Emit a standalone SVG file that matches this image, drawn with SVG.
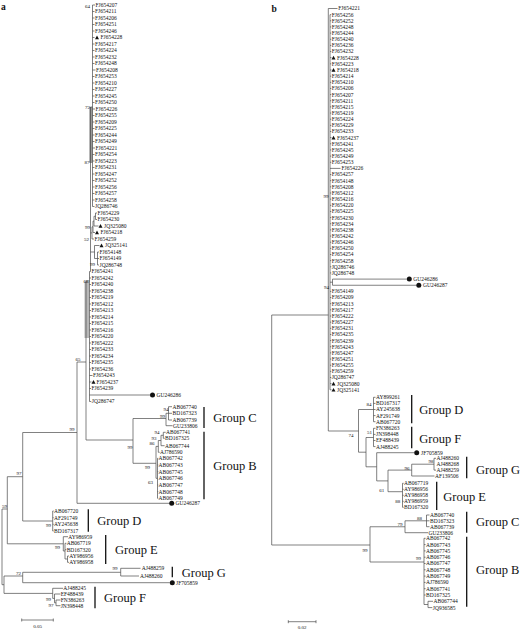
<svg xmlns="http://www.w3.org/2000/svg" xmlns:xlink="http://www.w3.org/1999/xlink" width="520" height="629" viewBox="0 0 520 629">
<style>
.t{font-family:"Liberation Serif","Times New Roman",serif;font-size:5.5px;fill:#111}
.bs{font-family:"Liberation Serif","Times New Roman",serif;font-size:5px;fill:#111;text-anchor:middle}
.g{font-family:"Liberation Serif","Times New Roman",serif;font-size:12.5px;fill:#111}
.p{font-family:"Liberation Serif","Times New Roman",serif;font-size:9.5px;font-weight:bold;fill:#111}
.ln{fill:none;stroke:#4a4a4a;stroke-width:0.7}
.bar{fill:none;stroke:#111;stroke-width:1.3}
.tri{fill:#111}
.dot{fill:#111}
</style>
<defs>
<path id="tri" d="M-2 1.8L0 -1.9L2 1.8Z"/>
</defs>
<rect width="520" height="629" fill="#fff"/>
<g id="connectors">
<rect x="89.3" y="107" width="3.2" height="56" fill="#9a9a9a"/>
<rect x="84.5" y="282" width="4.5" height="56" fill="#b8b8b8"/>
<path class="ln" d="M92.5 5V206.5M90.5 107V271.5M90.5 107H92.5
M92.5 5h2.5M92.5 11.5h2M92.5 18h2M92.5 24.5h2M92.5 31h2M92.5 37.5h2M92.5 44h2M92.5 50.5h2M92.5 57h2M92.5 63.5h2M92.5 70h3M92.5 76.5h2M92.5 83h2M92.5 89.5h2M92.5 96h2M92.5 102.5h2M92.5 109h2.5M92.5 115.5h2M92.5 122h2M92.5 128.5h2M92.5 135h2M92.5 141.5h2M92.5 148h2.5M92.5 154.5h2M92.5 161h2M92.5 167.5h2M92.5 174h2M92.5 180.5h2M92.5 187h2M92.5 193.5h2M92.5 200h2M92.5 206.5h2
M95.5 213V219.5M95.5 213h1.5M95.5 219.5h1.5M94 216.25V226M94 216.25h1.5M94 226h4.5M93 221.1V232.5M93 221.1h1M93 232.5h2M92 226.8V239M92 226.8h1M92 239h2M90.5 232.9h1.5
M97.5 252V265M97.5 252h1.5M97.5 258.5h1.5M97.5 265h1.5M94.5 245.5V258.5M94.5 245.5h5M94.5 258.5h3M90.5 252h4
M89.5 271.5V401.5M89.5 271.5h1
M89.5 278h1.5M89.5 284.5h1.5M89.5 291h1.5M89.5 297.5h1.5M89.5 304h1.5M89.5 310.5h1.5M89.5 317h1.5M89.5 323.5h1.5M89.5 330h1.5M89.5 336.5h1.5M89.5 343h1.5M89.5 349.5h1.5M89.5 356h1.5M89.5 362.5h1.5M89.5 369h1.5M89.5 375.5h3M89.5 382h2M89.5 388.5h1.5M89.5 395H150M89.5 401.5h1.8
M86 281V440M86 281h3.5
M77 362V503.3M77 362h9M22.7 432.5H77M77 503.3H169.3
M86 440H133M133 418.5V463.3
M133 418.5H166M166 413.3V425.7M166 413.3h2.5M168.5 406.7V420M168.5 406.7h3.5M168.5 413.3h3.5M168.5 420h3.5M166 425.7h6.5
M133 463.3H156M156 446.4V478.3M156 446.4h2.3M158.3 440.5V452.3M158.3 452.3h1.4M158.3 440.5h2.7M161 435.3V445.7M161 445.7h3.6M161 435.3h2.3M163.3 432.3V438.3M163.3 432.3h2.4M163.3 438.3h1.4
M156 478.3h1.5M157.5 458.3V498.3M157.5 458.3h0.8M157.5 465h0.8M157.5 471.7h0.8M157.5 485h0.8M157.5 491.7h0.8M157.5 498.3h0.8
M22.7 432.5V521M22.7 521H52.7M52.7 511V531M52.7 511h1M52.7 517.7h1M52.7 524.3h1M52.7 531h1
M7.3 476.7H22.7M7.3 476.7V543.8M2 509H7.3
M7.3 543.8H63.3M63.3 536.7V551M63.3 536.7h4.7M63.3 551h1.7M65 543.3V559M65 543.3h1.4M65 549.7h1.4M65 559h2.5M67.5 556V562.3M67.5 556h1.5M67.5 562.3h1.5
M2 509V584.7M2 584.7H4M4 576V593.4
M4 576H22.7M22.7 572.3V582.7M22.7 572.3H120.7M120.7 568.3V576M120.7 568.3H140.5M120.7 576H139M22.7 582.7H169.8
M4 593.4H52.7M52.7 588.3V598.4M52.7 588.3h10.3M52.7 598.4h1.8M54.5 594V602.8M54.5 594h6M54.5 602.8h1.5M56 600V605.7M56 600h4.5M56 605.7h4.5"/>
<path class="ln" d="M21.7 620H53.3M21.7 618.5V621.5M53.3 618.5V621.5"/>
<path class="ln" d="M328.3 8.5V431M328.3 8.5H337.5M330 14.65V389.8
M330 14.65h1.3M330 20.8h1.3M330 26.95h1.3M330 33.1h1.3M330 39.25h1.3M330 45.4h1.3M330 51.55h1.3M330 57.7h1.5M330 63.85h1.3M330 70h1.5M330 76.15h1.3M330 82.3h1.3M330 88.45h1.3M330 94.6h1.3M330 100.75h1.3M330 106.9h1.3M330 113.05h1.3M330 119.2h1.3M330 125.35h1.3M330 131.5h1.3M330 137.65h1.5M330 143.8h1.3M330 149.95h1.3M330 156.1h1.3M330 162.25h1.3M330 168.4H340.5M330 174.55h1.3M330 180.7h1.3M330 186.85h1.3M330 193h1.3M330 199.15h1.3M330 205.3h1.3M330 211.45h1.3M330 217.6h1.3M330 223.75h1.3M330 229.9h1.3M330 236.05h1.3M330 242.2h1.3M330 248.35h1.3M330 254.5h1.3M330 260.65h1.3M330 266.8h1.3M330 272.95h1.3M330 291.4h1.3M330 297.55h1.3M330 303.7h1.3M330 309.85h1.3M330 316h1.3M330 322.15h1.3M330 328.3h1.3M330 334.45h1.3M330 340.6h1.3M330 346.75h1.3M330 352.9h1.3M330 359.05h1.3M330 365.2h1.3M330 371.35h1.3M330 377.5h1.3M330 383.65h1.5M330 389.8h1.5
M332.5 279.1V285.25M330 282.2h2.5M332.5 279.1H406.8M332.5 285.25H416.3
M271.7 315H328.3M271.7 315V545M271.7 545H370
M328.3 431H358.5M358.5 409.5V452.2M358.5 409.5H373.5M373.5 397.3V421.7M373.5 397.3h2M373.5 403.4h2M373.5 409.5h2M373.5 415.6h2M373.5 421.7h2
M358.5 452.2H366M366 437.5V466.8M366 437.5H373.5M373.5 428.3V446.6M373.5 428.3h2M373.5 434.4h2M373.5 440.5h2M373.5 446.6h2
M366 466.8H376.7M376.7 452.7V480.9M376.7 452.7H414.4M376.7 480.9H388M388 470.1V491.7M388 470.1H411.7M411.7 464.2V476M411.7 464.2H434M434 458.3V470.1M434 458.3h2M434 470.1h2M411.7 476H434.5
M388 491.7H402.5M402.5 483.3V507.3M402.5 483.3h1.2M402.5 489.3h1.2M402.5 495.3h1.2M402.5 501.3h1.2M402.5 507.3h1.2
M370 526.75V562M370 526.75H405M405 520.8V532.7M405 520.8H426.5M426.5 515V526.7M426.5 515h3M426.5 520.8h3M426.5 526.7h3M405 532.7H428
M370 562H424M424 538.3V604.5M424 538.3h1.6M424 544.6h1.6M424 550.9h1.6M424 557.2h1.6M424 563.5h1.6M424 569.8h1.6M424 576.1h1.6M424 582.4h1.6M424 588.7h1.6M424 595h1.6M424 604.5H428M428 601.3V607.6M428 601.3H433M428 607.6H432.3"/>
<path class="ln" d="M288.3 621.7H316M288.3 620.2V623.2M316 620.2V623.2"/>
</g>
<g id="panel-labels">
<text class="p" x="1" y="10">a</text>
<text class="p" x="271.5" y="11.5">b</text>
</g>
<g id="a-bootstrap">
<text class="bs" x="87.5" y="8">64</text>
<text class="bs" x="87.5" y="108.5">72</text>
<text class="bs" x="87" y="163.5">87</text>
<text class="bs" x="87.5" y="228.5">99</text>
<text class="bs" x="86.5" y="241">52</text>
<text class="bs" x="92.5" y="266">99</text>
<text class="bs" x="86" y="282.5">68</text>
<text class="bs" x="78" y="360.5">65</text>
<text class="bs" x="72" y="430.5">99</text>
<text class="bs" x="130" y="448.5">99</text>
<text class="bs" x="166" y="411">94</text>
<text class="bs" x="162.5" y="418">99</text>
<text class="bs" x="157" y="433.5">94</text>
<text class="bs" x="154" y="439.5">93</text>
<text class="bs" x="152" y="445">86</text>
<text class="bs" x="147.5" y="468.5">99</text>
<text class="bs" x="150.5" y="484">63</text>
<text class="bs" x="19" y="475">97</text>
<text class="bs" x="4.5" y="507.5">59</text>
<text class="bs" x="48.5" y="527">99</text>
<text class="bs" x="57.5" y="549">99</text>
<text class="bs" x="18.5" y="574.5">72</text>
<text class="bs" x="115" y="570">99</text>
<text class="bs" x="48.5" y="600.5">99</text>
<text class="bs" x="51" y="607">97</text>
<text class="bs" x="37.5" y="628">0.05</text>
</g>
<g id="a-tips">
<g id="a0"><text class="t" x="95.5" y="6.9">FJ654207</text></g>
<g id="a1"><text class="t" x="95" y="13.4">FJ654211</text></g>
<g id="a2"><text class="t" x="95" y="19.9">FJ654206</text></g>
<g id="a3"><text class="t" x="95" y="26.4">FJ654251</text></g>
<g id="a4"><text class="t" x="95" y="32.9">FJ654246</text></g>
<g id="a5"><use href="#tri" class="tri" x="97" y="37.5"/><text class="t" x="100.5" y="39.4">FJ654228</text></g>
<g id="a6"><text class="t" x="95" y="45.9">FJ654217</text></g>
<g id="a7"><text class="t" x="95" y="52.4">FJ654224</text></g>
<g id="a8"><text class="t" x="95" y="58.9">FJ654232</text></g>
<g id="a9"><text class="t" x="95" y="65.4">FJ654248</text></g>
<g id="a10"><text class="t" x="96" y="71.9">FJ654208</text></g>
<g id="a11"><text class="t" x="95" y="78.4">FJ654253</text></g>
<g id="a12"><text class="t" x="95" y="84.9">FJ654210</text></g>
<g id="a13"><text class="t" x="95" y="91.4">FJ654227</text></g>
<g id="a14"><text class="t" x="95" y="97.9">FJ654245</text></g>
<g id="a15"><text class="t" x="95" y="104.4">FJ654250</text></g>
<g id="a16"><text class="t" x="95.5" y="110.9">FJ654226</text></g>
<g id="a17"><text class="t" x="95" y="117.4">FJ654255</text></g>
<g id="a18"><text class="t" x="95" y="123.9">FJ654209</text></g>
<g id="a19"><text class="t" x="95" y="130.4">FJ654225</text></g>
<g id="a20"><text class="t" x="95" y="136.9">FJ654244</text></g>
<g id="a21"><text class="t" x="95" y="143.4">FJ654249</text></g>
<g id="a22"><text class="t" x="95.5" y="149.9">FJ654221</text></g>
<g id="a23"><text class="t" x="95" y="156.4">FJ654254</text></g>
<g id="a24"><text class="t" x="95" y="162.9">FJ654223</text></g>
<g id="a25"><text class="t" x="95" y="169.4">FJ654231</text></g>
<g id="a26"><text class="t" x="95" y="175.9">FJ654247</text></g>
<g id="a27"><text class="t" x="95" y="182.4">FJ654252</text></g>
<g id="a28"><text class="t" x="95" y="188.9">FJ654256</text></g>
<g id="a29"><text class="t" x="95" y="195.4">FJ654257</text></g>
<g id="a30"><text class="t" x="95" y="201.9">FJ654258</text></g>
<g id="a31"><text class="t" x="95" y="208.4">JQ286746</text></g>
<g id="a32"><text class="t" x="97.5" y="214.9">FJ654229</text></g>
<g id="a33"><text class="t" x="97.5" y="221.4">FJ654230</text></g>
<g id="a34"><use href="#tri" class="tri" x="100.5" y="226"/><text class="t" x="104" y="227.9">JQ325080</text></g>
<g id="a35"><use href="#tri" class="tri" x="97" y="232.5"/><text class="t" x="100.5" y="234.4">FJ654218</text></g>
<g id="a36"><text class="t" x="94.5" y="240.9">FJ654259</text></g>
<g id="a37"><use href="#tri" class="tri" x="101.5" y="245.5"/><text class="t" x="105" y="247.4">JQ325141</text></g>
<g id="a38"><text class="t" x="99.5" y="253.9">FJ654148</text></g>
<g id="a39"><text class="t" x="99.5" y="260.4">FJ654149</text></g>
<g id="a40"><text class="t" x="99.5" y="266.9">JQ286748</text></g>
<g id="a41"><text class="t" x="91.5" y="273.4">FJ654241</text></g>
<g id="a42"><text class="t" x="91.5" y="279.9">FJ654242</text></g>
<g id="a43"><text class="t" x="91.5" y="286.4">FJ654240</text></g>
<g id="a44"><text class="t" x="91.5" y="292.9">FJ654238</text></g>
<g id="a45"><text class="t" x="91.5" y="299.4">FJ654219</text></g>
<g id="a46"><text class="t" x="91.5" y="305.9">FJ654212</text></g>
<g id="a47"><text class="t" x="91.5" y="312.4">FJ654213</text></g>
<g id="a48"><text class="t" x="91.5" y="318.9">FJ654214</text></g>
<g id="a49"><text class="t" x="91.5" y="325.4">FJ654215</text></g>
<g id="a50"><text class="t" x="91.5" y="331.9">FJ654216</text></g>
<g id="a51"><text class="t" x="91.5" y="338.4">FJ654220</text></g>
<g id="a52"><text class="t" x="91.5" y="344.9">FJ654222</text></g>
<g id="a53"><text class="t" x="91.5" y="351.4">FJ654233</text></g>
<g id="a54"><text class="t" x="91.5" y="357.9">FJ654234</text></g>
<g id="a55"><text class="t" x="91.5" y="364.4">FJ654235</text></g>
<g id="a56"><text class="t" x="91.5" y="370.9">FJ654236</text></g>
<g id="a57"><text class="t" x="93" y="377.4">FJ654243</text></g>
<g id="a58"><use href="#tri" class="tri" x="93.5" y="382"/><text class="t" x="96.5" y="383.9">FJ654237</text></g>
<g id="a59"><text class="t" x="91.5" y="390.4">FJ654239</text></g>
<g id="a60"><circle class="dot" cx="152.5" cy="395" r="2.5"/><text class="t" x="156.5" y="396.9">GU246286</text></g>
<g id="a61"><text class="t" x="91.8" y="403.4">JQ286747</text></g>
<g id="a-c1"><text class="t" x="172.5" y="408.6">AB067740</text></g>
<g id="a-c2"><text class="t" x="172.5" y="415.2">BD167323</text></g>
<g id="a-c3"><text class="t" x="172.5" y="421.9">AB067739</text></g>
<g id="a-c4"><text class="t" x="173" y="427.6">GU233806</text></g>
<g id="a-b1"><text class="t" x="166" y="434.2">AB067741</text></g>
<g id="a-b2"><text class="t" x="165" y="440.2">BD167325</text></g>
<g id="a-b3"><text class="t" x="165" y="447.6">AB067744</text></g>
<g id="a-b4"><text class="t" x="160" y="454.2">AJ786590</text></g>
<g id="a-b5"><text class="t" x="158.5" y="460.2">AB067742</text></g>
<g id="a-b6"><text class="t" x="158.5" y="466.9">AB067743</text></g>
<g id="a-b7"><text class="t" x="158.5" y="473.6">AB067745</text></g>
<g id="a-b8"><text class="t" x="158.5" y="480.2">AB067746</text></g>
<g id="a-b9"><text class="t" x="158.5" y="486.9">AB067747</text></g>
<g id="a-b10"><text class="t" x="158.5" y="493.6">AB067748</text></g>
<g id="a-b11"><text class="t" x="158.5" y="500.2">AB067749</text></g>
<g id="a-gu287"><circle class="dot" cx="171.7" cy="503.3" r="2.5"/><text class="t" x="175.5" y="505.2">GU246287</text></g>
<g id="a-d1"><text class="t" x="54" y="512.9">AB067720</text></g>
<g id="a-d2"><text class="t" x="54" y="519.6">AF291749</text></g>
<g id="a-d3"><text class="t" x="54" y="526.2">AY245638</text></g>
<g id="a-d4"><text class="t" x="54" y="532.9">BD167317</text></g>
<g id="a-e1"><text class="t" x="68.3" y="538.6">AY986959</text></g>
<g id="a-e2"><text class="t" x="66.7" y="545.2">AB067719</text></g>
<g id="a-e3"><text class="t" x="66.7" y="551.6">BD167320</text></g>
<g id="a-e4"><text class="t" x="69.3" y="557.9">AY986956</text></g>
<g id="a-e5"><text class="t" x="69.3" y="564.2">AY986958</text></g>
<g id="a-g1"><text class="t" x="141.7" y="570.2">AJ488259</text></g>
<g id="a-g2"><text class="t" x="140" y="577.9">AJ488260</text></g>
<g id="a-jf"><circle class="dot" cx="172.3" cy="582.7" r="2.5"/><text class="t" x="176" y="584.6">JF705859</text></g>
<g id="a-f1"><text class="t" x="63.3" y="590.2">AJ488245</text></g>
<g id="a-f2"><text class="t" x="60.7" y="595.9">EF488439</text></g>
<g id="a-f3"><text class="t" x="60.7" y="601.9">FN386263</text></g>
<g id="a-f4"><text class="t" x="60.7" y="607.6">JN398448</text></g>
</g>
<g id="a-groups">
<path class="bar" d="M204 407V428M204 431.7V499.3M88.3 509.3V531.7M105.7 535V564M172.3 566.7V577.3M95 586.7V608.3"/>
<text class="g" x="213.3" y="422">Group C</text>
<text class="g" x="213.3" y="469.5">Group B</text>
<text class="g" x="97.3" y="525">Group D</text>
<text class="g" x="115" y="554">Group E</text>
<text class="g" x="181.7" y="576.5">Group G</text>
<text class="g" x="104" y="602">Group F</text>
</g>
<g id="b-bootstrap">
<text class="bs" x="326" y="198">99</text>
<text class="bs" x="326.5" y="289">94</text>
<text class="bs" x="351" y="437">74</text>
<text class="bs" x="369" y="406">84</text>
<text class="bs" x="369.5" y="434">51</text>
<text class="bs" x="431" y="462.5">98</text>
<text class="bs" x="407" y="470">96</text>
<text class="bs" x="381.7" y="492">61</text>
<text class="bs" x="397.7" y="503">88</text>
<text class="bs" x="419.5" y="519.5">88</text>
<text class="bs" x="400" y="526">79</text>
<text class="bs" x="365" y="552">99</text>
<text class="bs" x="418.5" y="560">99</text>
<text class="bs" x="302" y="628.5">0.02</text>
</g>
<g id="b-tips">
<g id="b0"><text class="t" x="338.3" y="10.4">FJ654221</text></g>
<g id="b1"><text class="t" x="331.7" y="16.55">FJ654256</text></g>
<g id="b2"><text class="t" x="331.7" y="22.7">FJ654252</text></g>
<g id="b3"><text class="t" x="331.7" y="28.85">FJ654248</text></g>
<g id="b4"><text class="t" x="331.7" y="35">FJ654244</text></g>
<g id="b5"><text class="t" x="331.7" y="41.15">FJ654240</text></g>
<g id="b6"><text class="t" x="331.7" y="47.3">FJ654236</text></g>
<g id="b7"><text class="t" x="331.7" y="53.45">FJ654232</text></g>
<g id="b8"><use href="#tri" class="tri" x="333.5" y="57.7"/><text class="t" x="337" y="59.6">FJ654228</text></g>
<g id="b9"><text class="t" x="331.7" y="65.75">FJ654223</text></g>
<g id="b10"><use href="#tri" class="tri" x="333.5" y="70"/><text class="t" x="337" y="71.9">FJ654218</text></g>
<g id="b11"><text class="t" x="331.7" y="78.05">FJ654214</text></g>
<g id="b12"><text class="t" x="331.7" y="84.2">FJ654210</text></g>
<g id="b13"><text class="t" x="331.7" y="90.35">FJ654206</text></g>
<g id="b14"><text class="t" x="331.7" y="96.5">FJ654207</text></g>
<g id="b15"><text class="t" x="331.7" y="102.65">FJ654211</text></g>
<g id="b16"><text class="t" x="331.7" y="108.8">FJ654215</text></g>
<g id="b17"><text class="t" x="331.7" y="114.95">FJ654219</text></g>
<g id="b18"><text class="t" x="331.7" y="121.1">FJ654224</text></g>
<g id="b19"><text class="t" x="331.7" y="127.25">FJ654229</text></g>
<g id="b20"><text class="t" x="331.7" y="133.4">FJ654233</text></g>
<g id="b21"><use href="#tri" class="tri" x="333.5" y="137.65"/><text class="t" x="337" y="139.55">FJ654237</text></g>
<g id="b22"><text class="t" x="331.7" y="145.7">FJ654241</text></g>
<g id="b23"><text class="t" x="331.7" y="151.85">FJ654245</text></g>
<g id="b24"><text class="t" x="331.7" y="158">FJ654249</text></g>
<g id="b25"><text class="t" x="331.7" y="164.15">FJ654253</text></g>
<g id="b26"><text class="t" x="341.5" y="170.3">FJ654226</text></g>
<g id="b27"><text class="t" x="331.7" y="176.45">FJ654257</text></g>
<g id="b28"><text class="t" x="331.7" y="182.6">FJ654148</text></g>
<g id="b29"><text class="t" x="331.7" y="188.75">FJ654208</text></g>
<g id="b30"><text class="t" x="331.7" y="194.9">FJ654212</text></g>
<g id="b31"><text class="t" x="331.7" y="201.05">FJ654216</text></g>
<g id="b32"><text class="t" x="331.7" y="207.2">FJ654220</text></g>
<g id="b33"><text class="t" x="331.7" y="213.35">FJ654225</text></g>
<g id="b34"><text class="t" x="331.7" y="219.5">FJ654230</text></g>
<g id="b35"><text class="t" x="331.7" y="225.65">FJ654234</text></g>
<g id="b36"><text class="t" x="331.7" y="231.8">FJ654238</text></g>
<g id="b37"><text class="t" x="331.7" y="237.95">FJ654242</text></g>
<g id="b38"><text class="t" x="331.7" y="244.1">FJ654246</text></g>
<g id="b39"><text class="t" x="331.7" y="250.25">FJ654250</text></g>
<g id="b40"><text class="t" x="331.7" y="256.4">FJ654254</text></g>
<g id="b41"><text class="t" x="331.7" y="262.55">FJ654258</text></g>
<g id="b42"><text class="t" x="331.7" y="268.7">JQ286746</text></g>
<g id="b43"><text class="t" x="331.7" y="274.85">JQ286748</text></g>
<g id="b44"><circle class="dot" cx="409.3" cy="279.1" r="2.5"/><text class="t" x="413.3" y="281">GU246286</text></g>
<g id="b45"><circle class="dot" cx="418.8" cy="285.25" r="2.5"/><text class="t" x="423" y="287.15">GU246287</text></g>
<g id="b46"><text class="t" x="331.7" y="293.3">FJ654149</text></g>
<g id="b47"><text class="t" x="331.7" y="299.45">FJ654209</text></g>
<g id="b48"><text class="t" x="331.7" y="305.6">FJ654213</text></g>
<g id="b49"><text class="t" x="331.7" y="311.75">FJ654217</text></g>
<g id="b50"><text class="t" x="331.7" y="317.9">FJ654222</text></g>
<g id="b51"><text class="t" x="331.7" y="324.05">FJ654227</text></g>
<g id="b52"><text class="t" x="331.7" y="330.2">FJ654231</text></g>
<g id="b53"><text class="t" x="331.7" y="336.35">FJ654235</text></g>
<g id="b54"><text class="t" x="331.7" y="342.5">FJ654239</text></g>
<g id="b55"><text class="t" x="331.7" y="348.65">FJ654243</text></g>
<g id="b56"><text class="t" x="331.7" y="354.8">FJ654247</text></g>
<g id="b57"><text class="t" x="331.7" y="360.95">FJ654251</text></g>
<g id="b58"><text class="t" x="331.7" y="367.1">FJ654255</text></g>
<g id="b59"><text class="t" x="331.7" y="373.25">FJ654259</text></g>
<g id="b60"><text class="t" x="331.7" y="379.4">JQ286747</text></g>
<g id="b61"><use href="#tri" class="tri" x="333.5" y="383.65"/><text class="t" x="337" y="385.55">JQ325080</text></g>
<g id="b62"><use href="#tri" class="tri" x="333.5" y="389.8"/><text class="t" x="337" y="391.7">JQ325141</text></g>
<g id="b-d1"><text class="t" x="376" y="399.2">AY899261</text></g>
<g id="b-d2"><text class="t" x="376" y="405.3">BD167317</text></g>
<g id="b-d3"><text class="t" x="376" y="411.4">AY245638</text></g>
<g id="b-d4"><text class="t" x="376" y="417.5">AF291749</text></g>
<g id="b-d5"><text class="t" x="376" y="423.6">AB067720</text></g>
<g id="b-f1"><text class="t" x="376" y="430.2">FN386263</text></g>
<g id="b-f2"><text class="t" x="376" y="436.3">JN398448</text></g>
<g id="b-f3"><text class="t" x="376" y="442.4">EF488439</text></g>
<g id="b-f4"><text class="t" x="376" y="448.5">AJ488245</text></g>
<g id="b-jf"><circle class="dot" cx="416.7" cy="452.7" r="2.5"/><text class="t" x="421" y="454.6">JF705859</text></g>
<g id="b-g1"><text class="t" x="436.5" y="460.2">AJ488260</text></g>
<g id="b-g2"><text class="t" x="436.5" y="466.1">AJ488268</text></g>
<g id="b-g3"><text class="t" x="436.5" y="472">AJ488259</text></g>
<g id="b-g4"><text class="t" x="435" y="477.9">AF139506</text></g>
<g id="b-e1"><text class="t" x="404" y="485.2">AB067719</text></g>
<g id="b-e2"><text class="t" x="404" y="491.2">AY986956</text></g>
<g id="b-e3"><text class="t" x="404" y="497.2">AY986958</text></g>
<g id="b-e4"><text class="t" x="404" y="503.2">AY986959</text></g>
<g id="b-e5"><text class="t" x="404" y="509.2">BD167320</text></g>
<g id="b-c1"><text class="t" x="430" y="516.9">AB067740</text></g>
<g id="b-c2"><text class="t" x="430" y="522.7">BD167323</text></g>
<g id="b-c3"><text class="t" x="430" y="528.6">AB067739</text></g>
<g id="b-c4"><text class="t" x="428.5" y="534.6">GU233806</text></g>
<g id="b-b1"><text class="t" x="426" y="540.2">AB067742</text></g>
<g id="b-b2"><text class="t" x="426" y="546.5">AB067743</text></g>
<g id="b-b3"><text class="t" x="426" y="552.8">AB067745</text></g>
<g id="b-b4"><text class="t" x="426" y="559.1">AB067746</text></g>
<g id="b-b5"><text class="t" x="426" y="565.4">AB067747</text></g>
<g id="b-b6"><text class="t" x="426" y="571.7">AB067748</text></g>
<g id="b-b7"><text class="t" x="426" y="578">AB067749</text></g>
<g id="b-b8"><text class="t" x="426" y="584.3">AJ786590</text></g>
<g id="b-b9"><text class="t" x="426" y="590.6">AB067741</text></g>
<g id="b-b10"><text class="t" x="426" y="596.9">BD167325</text></g>
<g id="b-b11"><text class="t" x="433.5" y="603.2">AB067744</text></g>
<g id="b-b12"><text class="t" x="432.8" y="609.5">JQ936585</text></g>
</g>
<g id="b-groups">
<path class="bar" d="M411.7 395V423.3M411.7 426.7V448.3M466.7 456.7V478.3M436.7 481.7V510M466.7 511.7V532.7M466.7 536.7V606.7"/>
<text class="g" x="419.3" y="414">Group D</text>
<text class="g" x="419.3" y="443">Group F</text>
<text class="g" x="476" y="473.5">Group G</text>
<text class="g" x="443.3" y="500.5">Group E</text>
<text class="g" x="476" y="526">Group C</text>
<text class="g" x="476" y="574">Group B</text>
</g>
</svg>
